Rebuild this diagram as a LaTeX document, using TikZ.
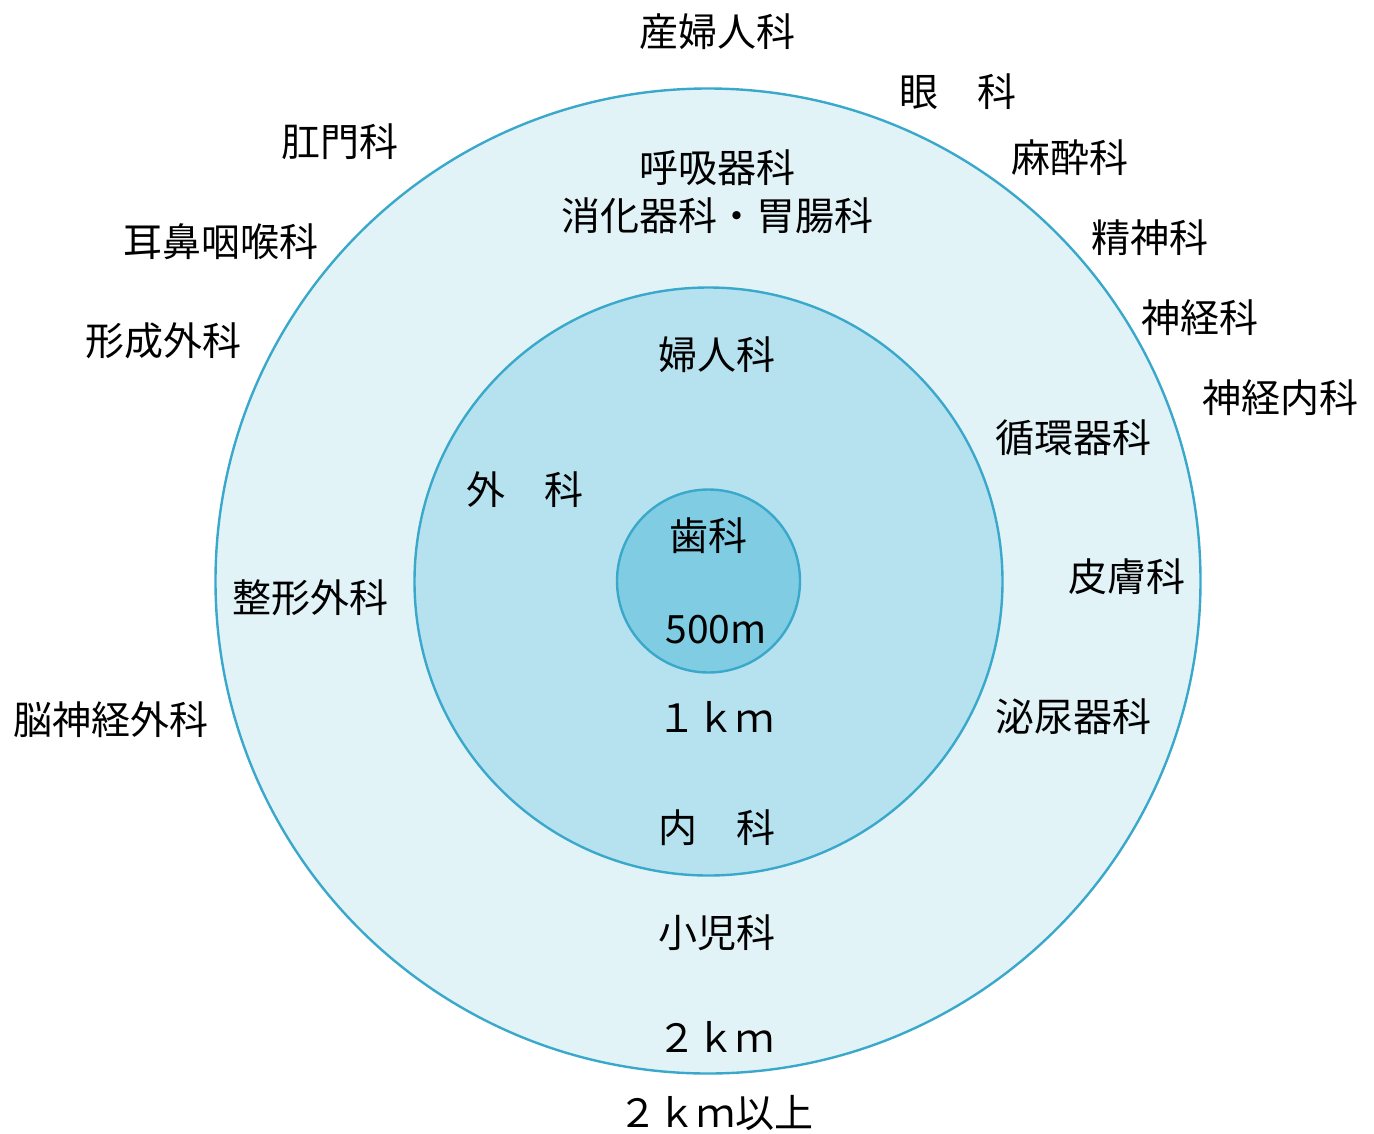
\documentclass[tikz,border=0pt]{standalone}
\usepackage{fontspec}
\newfontfamily\jp{Noto Sans CJK JP}
\definecolor{ringline}{HTML}{3AA8CB}
\definecolor{outerfill}{HTML}{E2F3F8}
\definecolor{midfill}{HTML}{B6E2EF}
\definecolor{innerfill}{HTML}{80CDE3}
\tikzset{
  ring/.style={circle,draw=ringline,line width=2.4pt,inner sep=0pt},
  lbl/.style={font=\jp\fontsize{39}{46}\selectfont,text=black,inner sep=0pt,anchor=center}
}
\begin{document}
\begin{tikzpicture}[x=1pt,y=-1pt]
\useasboundingbox[fill=white] (0,0) rectangle (1374,1133);
\node[ring,fill=outerfill,minimum size=985pt] (outer) at (708,581) {};
\node[ring,fill=midfill,minimum size=588pt] (mid) at (708.5,581.5) {};
\node[ring,fill=innerfill,minimum size=183pt] (inner) at (708.5,581) {};

\node[lbl] (sanfu) at (717,32) {産婦人科};
\node[lbl] (gan) at (958,92) {眼　科};
\node[lbl] (koumon) at (340,142) {肛門科};
\node[lbl] (masui) at (1070,158) {麻酔科};
\node[lbl] (kokyu) at (717,168) {呼吸器科};
\node[lbl] (shoka) at (717,216) {消化器科・胃腸科};
\node[lbl] (jibi) at (221,242) {耳鼻咽喉科};
\node[lbl] (seishin) at (1150,238) {精神科};
\node[lbl] (shinkei) at (1200,318) {神経科};
\node[lbl] (keisei) at (163,341) {形成外科};
\node[lbl] (fujin) at (717,355) {婦人科};
\node[lbl] (shinnai) at (1280,398) {神経内科};
\node[lbl] (junkan) at (1073,438) {循環器科};
\node[lbl] (geka) at (525,490) {外　科};
\node[lbl] (shika) at (708,536) {歯科};
\node[lbl] (hifu) at (1127,577) {皮膚科};
\node[lbl] (seikei) at (310,598) {整形外科};
\node[lbl] (m500) at (716,630) {500m};
\node[lbl] (nou) at (111,720) {脳神経外科};
\node[lbl] (km1) at (716,717) {１ｋｍ};
\node[lbl] (hinyo) at (1073,717) {泌尿器科};
\node[lbl] (naika) at (717,828) {内　科};
\node[lbl] (shoni) at (717,933) {小児科};
\node[lbl] (km2) at (716,1037) {２ｋｍ};
\node[lbl] (km2up) at (716,1113) {２ｋｍ以上};
\end{tikzpicture}
\end{document}
